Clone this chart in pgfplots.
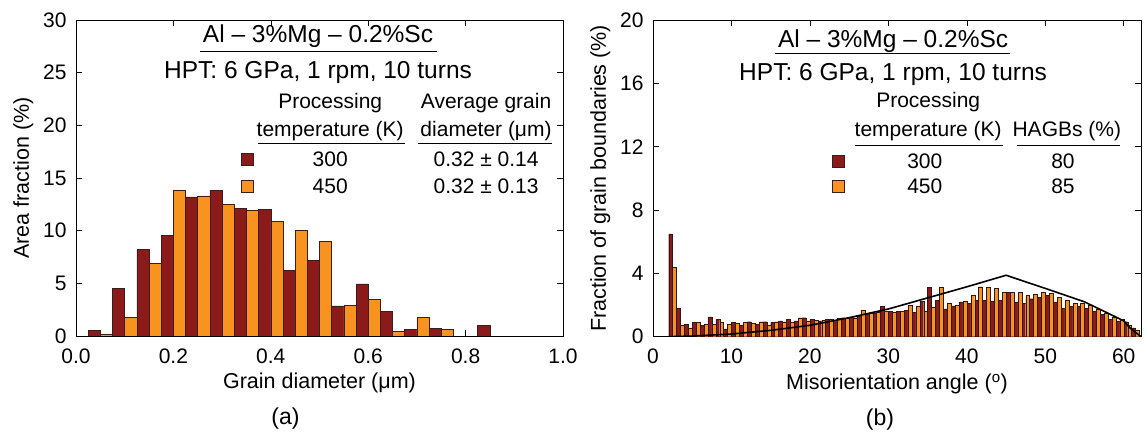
\documentclass[border=0pt]{standalone}
\usepackage{pgfplots}
\pgfplotsset{compat=1.18}
\usepackage{fontspec}
\setmainfont{Liberation Sans}
\definecolor{dred}{HTML}{8B1A1A}
\definecolor{orng}{HTML}{F7931E}
\definecolor{edge}{HTML}{3A1E1E}
\pgfplotsset{myax/.style={
  scale only axis, clip mode=individual,
  axis line style={black, line width=0.8pt},
  tick style={black, line width=0.6pt}, major tick length=6pt,
  tick label style={font=\fontsize{21}{24}\selectfont},
  label style={font=\fontsize{21.5}{25}\selectfont},
  xticklabel shift=9pt, yticklabel shift=6pt,
  xlabel style={yshift=-3pt}, ylabel style={yshift=3pt},
  /pgf/number format/assume math mode=true,
  ymin=0,
}}
\newcommand{\ttl}{\fontsize{24.5}{28}\selectfont}
\newcommand{\lgd}{\fontsize{21}{24}\selectfont}
\begin{document}
\begin{tikzpicture}
\path[use as bounding box] (0,0) rectangle (1145pt,435pt);
% ---------------- (a)
\begin{axis}[myax, at={(76pt,99pt)}, anchor=south west,
  width=487pt, height=316pt,
  xmin=0, xmax=1, ymax=30,
  xtick={0,0.2,0.4,0.6,0.8,1.0}, ytick={0,5,10,15,20,25,30},
  xticklabel style={/pgf/number format/.cd, fixed, fixed zerofill, precision=1},
  xlabel={Grain diameter (μm)}, ylabel={Area fraction (\%)},
  bar width=0.025]
\addplot[ybar, bar shift=0pt, fill=dred, draw=edge, line width=0.6pt] coordinates {
(0.0375,0.5) (0.0875,4.5) (0.1375,8.2) (0.1875,9.55) (0.2375,13.2) (0.2875,13.85)
(0.3375,12.1) (0.3875,12.0) (0.4375,6.25) (0.4875,7.15) (0.5375,2.85) (0.5875,4.95)
(0.6375,2.3) (0.6875,0.63) (0.7375,0.75) (0.8375,0.98)};
\addplot[ybar, bar shift=0pt, fill=orng, draw=edge, line width=0.6pt] coordinates {
(0.0625,0.2) (0.1125,1.8) (0.1625,6.9) (0.2125,13.85) (0.2625,13.3) (0.3125,12.5)
(0.3625,11.9) (0.4125,10.85) (0.4625,10.05) (0.5125,9.0) (0.5625,2.9) (0.6125,3.5)
(0.6625,0.45) (0.7125,1.75) (0.7625,0.63)};
\node[anchor=base] at (rel axis cs:0.497,0.928) {\ttl Al – 3\%Mg – 0.2\%Sc};
\draw[line width=0.8pt] (rel axis cs:0.255,0.900) -- (rel axis cs:0.742,0.900);
\node[anchor=base] at (rel axis cs:0.497,0.814) {\ttl HPT: 6 GPa, 1 rpm, 10 turns};
\node at (rel axis cs:0.522,0.737) {\lgd Processing};
\node at (rel axis cs:0.522,0.649) {\lgd temperature (K)};
\node at (rel axis cs:0.842,0.737) {\lgd Average grain};
\node at (rel axis cs:0.842,0.649) {\lgd diameter (μm)};
\draw[line width=0.8pt] (rel axis cs:0.374,0.608) -- (rel axis cs:0.676,0.608);
\draw[line width=0.8pt] (rel axis cs:0.702,0.608) -- (rel axis cs:0.977,0.608);
\node[draw=edge, fill=dred, minimum size=12pt, inner sep=0pt, line width=0.6pt] at (rel axis cs:0.351,0.560) {};
\node[draw=edge, fill=orng, minimum size=12pt, inner sep=0pt, line width=0.6pt] at (rel axis cs:0.351,0.475) {};
\node at (rel axis cs:0.522,0.560) {\lgd 300};
\node at (rel axis cs:0.522,0.475) {\lgd 450};
\node at (rel axis cs:0.842,0.560) {\lgd 0.32 ± 0.14};
\node at (rel axis cs:0.842,0.475) {\lgd 0.32 ± 0.13};
\node at (rel axis cs:0.43,-0.262) {\fontsize{23}{26}\selectfont (a)};
\end{axis}
% ---------------- (b)
\begin{axis}[myax, at={(653pt,98.3pt)}, anchor=south west,
  width=488pt, height=316.7pt,
  xmin=0, xmax=62.2, ymax=20,
  xtick={0,10,20,30,40,50,60}, ytick={0,4,8,12,16,20},
  xlabel={Misorientation angle (\textsuperscript{o})}, ylabel={Fraction of grain boundaries (\%)},
  bar width=0.5]
\addplot[ybar, bar shift=0pt, fill=dred, draw=edge!80!black, line width=0.3pt] coordinates {
(2.25,6.5) (3.25,1.8) (4.25,0.8) (5.25,0.9) (6.25,0.7) (7.25,1.25) (8.25,1.1) (9.25,0.5)
(10.25,0.9) (11.25,0.75) (12.25,0.95) (13.25,0.8) (14.25,0.95) (15.25,0.9) (16.25,1.0)
(17.25,1.1) (18.25,1.0) (19.25,1.2) (20.25,1.1) (21.25,1.0) (22.25,1.1) (23.25,1.05)
(24.25,1.2) (25.25,1.25) (26.25,1.3) (27.25,1.45) (28.25,1.5) (29.25,1.9) (30.25,1.6)
(31.25,1.6) (32.25,1.65) (33.25,1.55) (34.25,2.25) (35.25,3.1) (36.25,2.3) (37.25,1.75)
(38.25,1.95) (39.25,2.2) (40.25,2.1) (41.25,2.3) (42.25,2.3) (43.25,2.25) (44.25,2.3)
(45.25,2.8) (46.25,2.2) (47.25,2.1) (48.25,2.4) (49.25,2.5) (50.25,2.6) (51.25,2.2)
(52.25,1.8) (53.25,1.9) (54.25,1.9) (55.25,1.8) (56.25,1.6) (57.25,1.4) (58.25,1.1)
(59.25,1.0) (60.25,0.95) (61.25,0.55)};
\addplot[ybar, bar shift=0pt, fill=orng, draw=edge!80!black, line width=0.3pt] coordinates {
(2.75,4.4) (3.75,0.75) (4.75,0.55) (5.75,0.9) (6.75,0.8) (7.75,0.8) (8.75,0.9) (9.75,0.8)
(10.75,0.85) (11.75,0.9) (12.75,0.85) (13.75,0.95) (14.75,0.75) (15.75,0.95) (16.75,0.95)
(17.75,0.9) (18.75,1.2) (19.75,1.0) (20.75,1.05) (21.75,1.05) (22.75,1.1) (23.75,1.15)
(24.75,1.15) (25.75,1.2) (26.75,1.7) (27.75,1.5) (28.75,1.55) (29.75,1.6) (30.75,1.55)
(31.75,1.6) (32.75,2.0) (33.75,1.95) (34.75,1.6) (35.75,1.85) (36.75,3.1) (37.75,2.1)
(38.75,2.0) (39.75,2.25) (40.75,2.6) (41.75,3.16) (42.75,3.1) (43.75,3.05) (44.75,2.8)
(45.75,2.8) (46.75,2.8) (47.75,2.6) (48.75,2.7) (49.75,2.8) (50.75,2.75) (51.75,2.5)
(52.75,2.3) (53.75,2.1) (54.75,2.1) (55.75,2.0) (56.75,1.75) (57.75,1.5) (58.75,1.25)
(59.75,1.1) (60.75,0.7) (61.75,0.4)};
\addplot[black, line width=1.6pt, mark=none] coordinates {
(2,0) (5,0.04) (10,0.17) (15,0.4) (20,0.72) (25,1.2) (30,1.75) (35,2.45) (40,3.15)
(45,3.88) (50,3.05) (55,2.2) (60,1.0) (60.8,0.55) (62.2,0)};
\node[anchor=base] at (rel axis cs:0.492,0.914) {\ttl Al – 3\%Mg – 0.2\%Sc};
\draw[line width=0.8pt] (rel axis cs:0.250,0.895) -- (rel axis cs:0.732,0.895);
\node[anchor=base] at (rel axis cs:0.492,0.808) {\ttl HPT: 6 GPa, 1 rpm, 10 turns};
\node at (rel axis cs:0.564,0.741) {\lgd Processing};
\node at (rel axis cs:0.564,0.650) {\lgd temperature (K)};
\node at (rel axis cs:0.848,0.650) {\lgd HAGBs (\%)};
\draw[line width=0.8pt] (rel axis cs:0.414,0.604) -- (rel axis cs:0.717,0.604);
\draw[line width=0.8pt] (rel axis cs:0.746,0.604) -- (rel axis cs:0.957,0.604);
\node[draw=edge, fill=dred, minimum size=12pt, inner sep=0pt, line width=0.6pt] at (rel axis cs:0.379,0.555) {};
\node[draw=edge, fill=orng, minimum size=12pt, inner sep=0pt, line width=0.6pt] at (rel axis cs:0.379,0.476) {};
\node at (rel axis cs:0.557,0.555) {\lgd 300};
\node at (rel axis cs:0.557,0.476) {\lgd 450};
\node at (rel axis cs:0.840,0.555) {\lgd 80};
\node at (rel axis cs:0.840,0.476) {\lgd 85};
\node at (rel axis cs:0.465,-0.262) {\fontsize{23}{26}\selectfont (b)};
\end{axis}
\end{tikzpicture}
\end{document}
